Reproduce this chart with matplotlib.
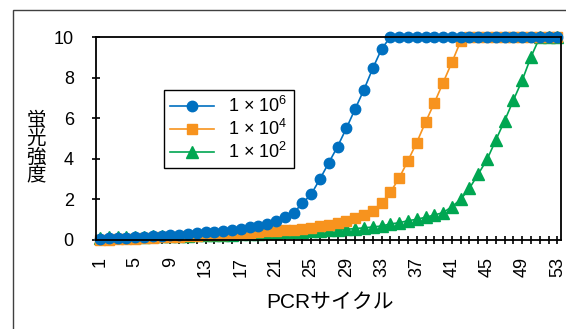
import matplotlib
matplotlib.use('Agg')
import matplotlib.pyplot as plt
from matplotlib.patches import Rectangle

plt.rcParams['font.family'] = ['Liberation Sans', 'Noto Sans CJK JP', 'DejaVu Sans']
plt.rcParams['mathtext.fontset'] = 'custom'
plt.rcParams['mathtext.rm'] = 'Liberation Sans'

# PCR cycles 1..53
cycles = list(range(1, 54))

# 1 x 10^6
blue = [0.06, 0.08, 0.10, 0.12, 0.14, 0.16, 0.18, 0.21, 0.24, 0.27,
        0.30, 0.33, 0.37, 0.40, 0.43, 0.47, 0.55, 0.62, 0.70, 0.78,
        0.95, 1.12, 1.34, 1.80, 2.25, 3.00, 3.80, 4.60, 5.50, 6.45,
        7.40, 8.45, 9.40, 10, 10, 10, 10, 10, 10, 10,
        10, 10, 10, 10, 10, 10, 10, 10, 10, 10,
        10, 10, 10]
# 1 x 10^4
orange = [0.00, 0.02, 0.04, 0.06, 0.07, 0.09, 0.11, 0.13, 0.15, 0.17,
          0.19, 0.21, 0.23, 0.25, 0.27, 0.30, 0.32, 0.35, 0.38, 0.42,
          0.44, 0.47, 0.50, 0.55, 0.61, 0.68, 0.76, 0.85, 0.95, 1.07,
          1.22, 1.45, 1.82, 2.35, 3.05, 3.90, 4.80, 5.80, 6.75, 7.75,
          8.75, 9.80, 10, 10, 10, 10, 10, 10, 10, 10,
          10, 10, 10]
# 1 x 10^2
green = [0.12, 0.13, 0.14, 0.15, 0.16, 0.17, 0.18, 0.19, 0.20, 0.21,
         0.22, 0.23, 0.24, 0.25, 0.26, 0.27, 0.28, 0.30, 0.31, 0.33,
         0.35, 0.37, 0.39, 0.41, 0.43, 0.45, 0.47, 0.50, 0.53, 0.56,
         0.60, 0.64, 0.69, 0.79, 0.85, 0.95, 1.02, 1.12, 1.23, 1.35,
         1.64, 2.00, 2.55, 3.25, 3.97, 4.93, 5.88, 6.90, 7.88, 9.03,
         10, 10, 10]

labels = ['1 × 10$^{6}$', '1 × 10$^{4}$', '1 × 10$^{2}$']
xtick_labels = [1, 5, 9, 13, 17, 21, 25, 29, 33, 37, 41, 45, 49, 53]

fig = plt.figure(figsize=(5.66, 3.29), dpi=100)
W, H = 566, 329

# outer frame (only left/top visible)
fig.patches.append(Rectangle((13 / W, -0.1), 1.2, 1.1 - 10 / H,
                             transform=fig.transFigure, fill=False,
                             edgecolor='#404040', lw=1))

ax = fig.add_axes([96 / W, 1 - 240 / H, 465 / W, 203 / H])

lg, = ax.plot(cycles, green, color='#00A651', marker='^', ms=8, lw=1.2, clip_on=False)
lo, = ax.plot(cycles, orange, color='#F7931E', marker='s', ms=7, lw=1.2, clip_on=False)
lb, = ax.plot(cycles, blue, color='#0070C0', marker='o', ms=7.5, lw=1.2, clip_on=False)

ax.set_xlim(0.55, 53.4)
ax.set_ylim(0, 10)
ax.set_yticks([0, 2, 4, 6, 8, 10])
ax.set_xticks(cycles, minor=True)
ax.set_xticks(xtick_labels)
ax.set_xticklabels([str(v) for v in xtick_labels], rotation=90)
ax.tick_params(axis='y', direction='inout', length=6, width=1.2, labelsize=13, pad=13)
ax.tick_params(axis='x', which='both', direction='inout', length=6, width=1.2,
               labelsize=13, pad=9)
for s in ax.spines.values():
    s.set_linewidth(1.3)
    s.set_color('black')

fig.text(36 / W, 1 - 148 / H, '蛍\n光\n強\n度', ha='center', va='center',
         fontsize=14, linespacing=1.0)
fig.text(330 / W, 1 - 302 / H, 'PCRサイクル', ha='center', va='center', fontsize=15)

leg = ax.legend([lb, lo, lg], labels, loc='upper left',
                bbox_to_anchor=(164 / W, 1 - 90 / H), bbox_transform=fig.transFigure,
                fontsize=13, frameon=True, fancybox=False, edgecolor='black',
                framealpha=1, handlelength=2.4, borderaxespad=0, borderpad=0.35,
                labelspacing=0.15, handletextpad=0.8)
leg.get_frame().set_linewidth(1.0)

fig.savefig('out.png', dpi=100)
